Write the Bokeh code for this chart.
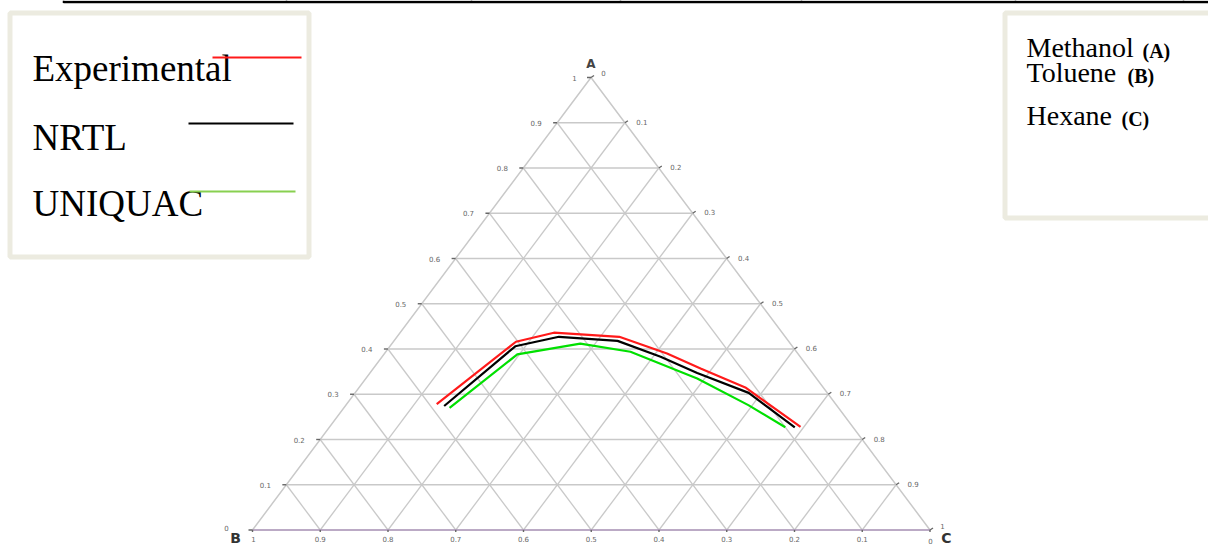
import numpy as np
from bokeh.plotting import figure
from bokeh.models import Range1d
from bokeh.embed import file_html
from bokeh.resources import INLINE
from bokeh.core.properties import value

# ---------------- data (mass fractions; A = Methanol, B = Toluene, C = Hexane) ----------------
exp_A = [0.278, 0.416, 0.436, 0.427, 0.390, 0.357, 0.315, 0.228]
exp_C = [0.133, 0.181, 0.227, 0.328, 0.417, 0.483, 0.570, 0.695]
nrtl_A = [0.274, 0.406, 0.427, 0.418, 0.383, 0.347, 0.303, 0.227]
nrtl_C = [0.146, 0.185, 0.239, 0.330, 0.411, 0.483, 0.581, 0.687]
uniq_A = [0.270, 0.388, 0.412, 0.394, 0.335, 0.276, 0.227]
uniq_C = [0.156, 0.197, 0.278, 0.361, 0.489, 0.594, 0.673]

grid_fracs = [0.1, 0.2, 0.3, 0.4, 0.5, 0.6, 0.7, 0.8, 0.9]
tick_labels = ["0.1", "0.2", "0.3", "0.4", "0.5", "0.6", "0.7", "0.8", "0.9"]
series_names = ["Experimental", "NRTL", "UNIQUAC"]
components = ["Methanol", "Toluene", "Hexane"]
component_tags = ["(A)", "(B)", "(C)"]
vertex_names = ["A", "B", "C"]

# ---------------- geometry (picture pixel coordinates) ----------------
VA = (590.5, 77.0)
VB = (252.0, 529.5)
VC = (929.5, 529.5)


def tern(a, c):
    a = np.asarray(a, dtype=float)
    c = np.asarray(c, dtype=float)
    b = 1.0 - a - c
    x = a * VA[0] + b * VB[0] + c * VC[0]
    y = a * VA[1] + b * VB[1] + c * VC[1]
    return x, y


W, H = 1208, 545
p = figure(width=W, height=H, x_range=Range1d(0, W), y_range=Range1d(H, 0),
           output_backend="svg", toolbar_location=None, min_border=0)
p.axis.visible = False
p.grid.visible = False
p.outline_line_color = None
p.background_fill_color = "white"
p.border_fill_color = "white"

GRID = "#c9c9c9"

# grid lines
xs, ys = [], []
for f in grid_fracs:
    x, y = tern([f, f], [0.0, 1.0 - f])
    xs.append(list(x)); ys.append(list(y))
    x, y = tern([0.0, 1.0 - f], [f, f])
    xs.append(list(x)); ys.append(list(y))
    x, y = tern([0.0, 1.0 - f], [1.0 - f, 0.0])
    xs.append(list(x)); ys.append(list(y))
p.multi_line(xs, ys, line_color=GRID, line_width=1.3)

# triangle edges
x, y = tern([0.0, 1.0, 0.0], [0.0, 0.0, 1.0])
p.line(list(x), list(y), line_color=GRID, line_width=1.5)
x, y = tern([0.0, 0.0], [0.0, 1.0])
p.line(list(x), list(y), line_color="#a58eb2", line_width=1.6)

# small ticks on edges
txs, tys = [], []
for f in [0.0] + grid_fracs + [1.0]:
    x, y = tern([f], [0.0])
    txs.append([x[0] - 4, x[0]]); tys.append([y[0], y[0]])
    x, y = tern([1.0 - f], [f])
    txs.append([x[0], x[0] + 3]); tys.append([y[0], y[0] - 2])
    x, y = tern([0.0], [1.0 - f])
    txs.append([x[0], x[0]]); tys.append([y[0], y[0] + 2])
p.multi_line(txs, tys, line_color="#666666", line_width=1.4)

# tick labels
LF = value("DejaVu Sans")
TC = "#666666"
lx, ly, lt = [], [], []
for f, t in zip(grid_fracs, tick_labels):
    x, y = tern([f], [0.0])
    lx.append(x[0] - 21); ly.append(y[0]); lt.append(t)
p.text(lx + [226, 574], ly + [527, 77], lt + ["0", "1"], text_font=LF, text_font_size="7px",
       text_color=TC, text_align="center", text_baseline="middle")
rx, ry, rt = [], [], []
for f, t in zip(grid_fracs, tick_labels):
    x, y = tern([1.0 - f], [f])
    rx.append(x[0] + 17); ry.append(y[0] - 1); rt.append(t)
p.text(rx + [603, 942], ry + [72, 525], rt + ["0", "1"], text_font=LF, text_font_size="7px",
       text_color=TC, text_align="center", text_baseline="middle")
bx, by, bt = [], [], []
for f, t in zip(grid_fracs, tick_labels):
    x, y = tern([0.0], [1.0 - f])
    bx.append(x[0]); by.append(538.5); bt.append(t)
p.text(bx + [253, 930], by + [538.5, 540], bt + ["1", "0"], text_font=LF, text_font_size="7px",
       text_color=TC, text_align="center", text_baseline="middle")

# vertex labels
p.text([590.5], [63], vertex_names[:1], text_font=LF, text_font_style="bold",
       text_font_size="12px", text_color="#444444", text_align="center", text_baseline="middle")
p.text([235, 946], [537.5, 537.5], vertex_names[1:], text_font=LF, text_font_style="bold",
       text_font_size="14px", text_color="#333333", text_align="center", text_baseline="middle")

# curves
x, y = tern(exp_A, exp_C)
p.line(x, y, line_color="#ff1a1a", line_width=2.2)
x, y = tern(nrtl_A, nrtl_C)
p.line(x, y, line_color="#000000", line_width=2.2)
x, y = tern(uniq_A, uniq_C)
p.line(x, y, line_color="#00e000", line_width=2.2)

# top border fragment (document table edge)
p.line([63, 1208], [1.5, 1.5], line_color="black", line_width=2.5)
vx = [63, 286, 471, 620, 801, 1015, 1183]
p.multi_line([[v, v] for v in vx], [[0, 2.5] for _ in vx], line_color="black", line_width=1.5)

# legend boxes
BOX = "#ecebe0"
p.quad(left=[9.5], right=[308.5], top=[12.5], bottom=[256.5], fill_color="white",
       line_color=BOX, line_width=5)
p.quad(left=[1004.5], right=[1215], top=[12.5], bottom=[217.5], fill_color="white",
       line_color=BOX, line_width=5)

SERIF = value("Liberation Serif")
p.text([32, 32, 32], [68, 137, 203], series_names, text_font=SERIF, text_font_size="37px",
       text_color="black", text_baseline="alphabetic", text_align="left")
p.multi_line([[212, 301], [188, 293], [189, 295]], [[57, 57], [123, 123], [191, 191]],
             line_color=["#ff1a1a", "#000000", "#88d050"], line_width=2)

p.text([1026, 1026, 1026], [47, 72, 115], components, text_font=SERIF, text_font_size="28px",
       text_color="black", text_baseline="alphabetic", text_align="left")
p.text([1142, 1127, 1121], [50, 75, 118], component_tags, text_font=SERIF, text_font_style="bold",
       text_font_size="20px", text_color="black", text_baseline="alphabetic", text_align="left")

open("out.html", "w").write(file_html(p, INLINE))
